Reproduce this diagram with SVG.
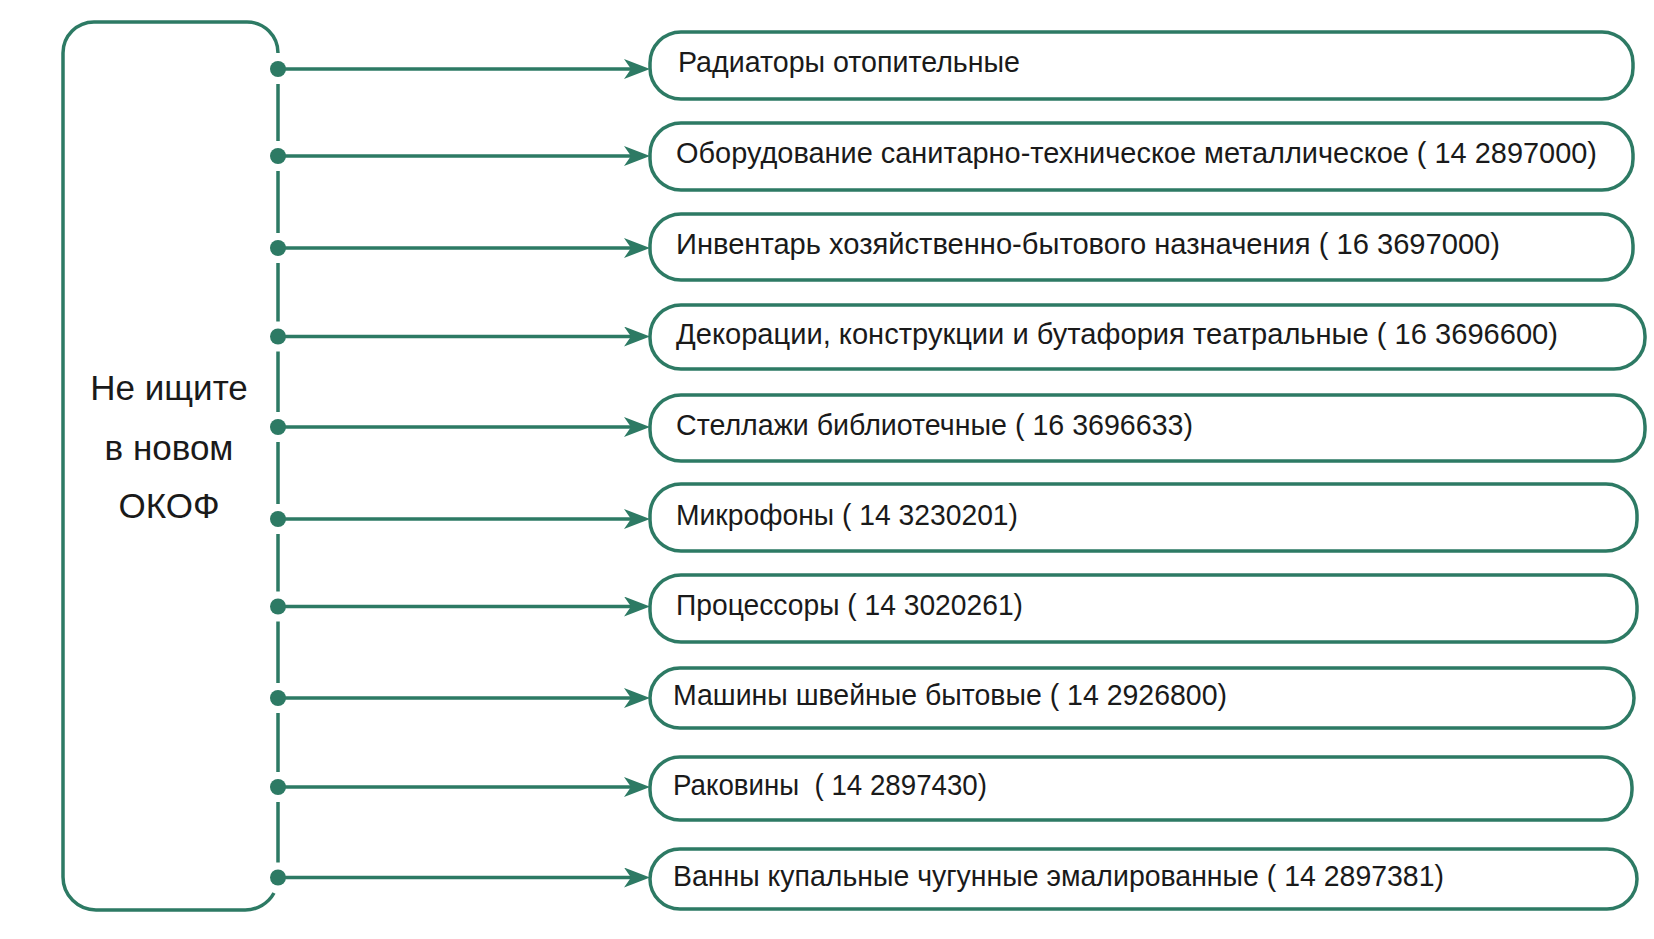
<svg xmlns="http://www.w3.org/2000/svg" width="1654" height="939" viewBox="0 0 1654 939">
<defs>
<style>
.box{fill:#fff;stroke:#2d7a64;stroke-width:3.5}
.ln{fill:none;stroke:#2d7a64;stroke-width:3.5}
.dot{fill:#2d7a64}
.t{font-family:"Liberation Sans",Arial,sans-serif;font-size:30px;fill:#1a1a1a;white-space:pre}
.big{font-family:"Liberation Sans",Arial,sans-serif;font-size:35px;fill:#1a1a1a;text-anchor:middle}
</style>
<marker id="ah" markerUnits="userSpaceOnUse" viewBox="0 0 26 20" refX="16" refY="10" markerWidth="26" markerHeight="20" orient="auto">
<path d="M0,0 L26,10 L0,20 L7,10 Z" fill="#2d7a64"/>
</marker>
</defs>
<rect width="1654" height="939" fill="#fff"/>
<g id="source">
<path class="ln" d="M278,53 A31,31 0 0 0 247,22 L94,22 A31,31 0 0 0 63,53 L63,877 A33,33 0 0 0 96,910 L245,910 A33,33 0 0 0 274,893"/>
<path class="ln" d="M278,84 V141 M278,171 V233 M278,263 V321.5 M278,351.5 V412 M278,442 V504 M278,534 V591.5 M278,621.5 V683 M278,713 V772 M278,802 V862.5"/>
<text class="big" x="169" y="400">Не ищите</text>
<text class="big" x="169" y="460">в новом</text>
<text class="big" x="169" y="518">ОКОФ</text>
</g>
<g id="connectors">
<g class="dot">
<circle cx="278" cy="69" r="8"/><circle cx="278" cy="156" r="8"/><circle cx="278" cy="248" r="8"/><circle cx="278" cy="336.5" r="8"/><circle cx="278" cy="427" r="8"/><circle cx="278" cy="519" r="8"/><circle cx="278" cy="606.5" r="8"/><circle cx="278" cy="698" r="8"/><circle cx="278" cy="787" r="8"/><circle cx="278" cy="877.5" r="8"/>
</g>
<g class="ln">
<line x1="278" y1="69" x2="640" y2="69" marker-end="url(#ah)"/>
<line x1="278" y1="156" x2="640" y2="156" marker-end="url(#ah)"/>
<line x1="278" y1="248" x2="640" y2="248" marker-end="url(#ah)"/>
<line x1="278" y1="336.5" x2="640" y2="336.5" marker-end="url(#ah)"/>
<line x1="278" y1="427" x2="640" y2="427" marker-end="url(#ah)"/>
<line x1="278" y1="519" x2="640" y2="519" marker-end="url(#ah)"/>
<line x1="278" y1="606.5" x2="640" y2="606.5" marker-end="url(#ah)"/>
<line x1="278" y1="698" x2="640" y2="698" marker-end="url(#ah)"/>
<line x1="278" y1="787" x2="640" y2="787" marker-end="url(#ah)"/>
<line x1="278" y1="877.5" x2="640" y2="877.5" marker-end="url(#ah)"/>
</g>
</g>
<g id="n1"><rect class="box" x="650" y="32" width="983" height="67" rx="31"/><text class="t" x="678" y="72" textLength="342" lengthAdjust="spacingAndGlyphs">Радиаторы отопительные</text></g>
<g id="n2"><rect class="box" x="650" y="123" width="983" height="67" rx="31"/><text class="t" x="676" y="163" textLength="921" lengthAdjust="spacingAndGlyphs">Оборудование санитарно-техническое металлическое ( 14 2897000)</text></g>
<g id="n3"><rect class="box" x="650" y="214" width="983" height="66" rx="31"/><text class="t" x="676" y="254" textLength="824" lengthAdjust="spacingAndGlyphs">Инвентарь хозяйственно-бытового назначения ( 16 3697000)</text></g>
<g id="n4"><rect class="box" x="650" y="305" width="995" height="64" rx="31"/><text class="t" x="676" y="344" textLength="882" lengthAdjust="spacingAndGlyphs">Декорации, конструкции и бутафория театральные ( 16 3696600)</text></g>
<g id="n5"><rect class="box" x="650" y="395" width="995" height="66" rx="31"/><text class="t" x="676" y="435" textLength="517" lengthAdjust="spacingAndGlyphs">Стеллажи библиотечные ( 16 3696633)</text></g>
<g id="n6"><rect class="box" x="650" y="484" width="987" height="67" rx="31"/><text class="t" x="676" y="525" textLength="342" lengthAdjust="spacingAndGlyphs">Микрофоны ( 14 3230201)</text></g>
<g id="n7"><rect class="box" x="650" y="575" width="987" height="67" rx="31"/><text class="t" x="676" y="615" textLength="347" lengthAdjust="spacingAndGlyphs">Процессоры ( 14 3020261)</text></g>
<g id="n8"><rect class="box" x="650" y="668" width="984" height="60" rx="30"/><text class="t" x="673" y="705" textLength="554" lengthAdjust="spacingAndGlyphs">Машины швейные бытовые ( 14 2926800)</text></g>
<g id="n9"><rect class="box" x="650" y="757" width="982" height="63" rx="30"/><text class="t" x="673" y="795" textLength="314" lengthAdjust="spacingAndGlyphs">Раковины  ( 14 2897430)</text></g>
<g id="n10"><rect class="box" x="650" y="849" width="987" height="60" rx="30"/><text class="t" x="673" y="886" textLength="771" lengthAdjust="spacingAndGlyphs">Ванны купальные чугунные эмалированные ( 14 2897381)</text></g>
</svg>
